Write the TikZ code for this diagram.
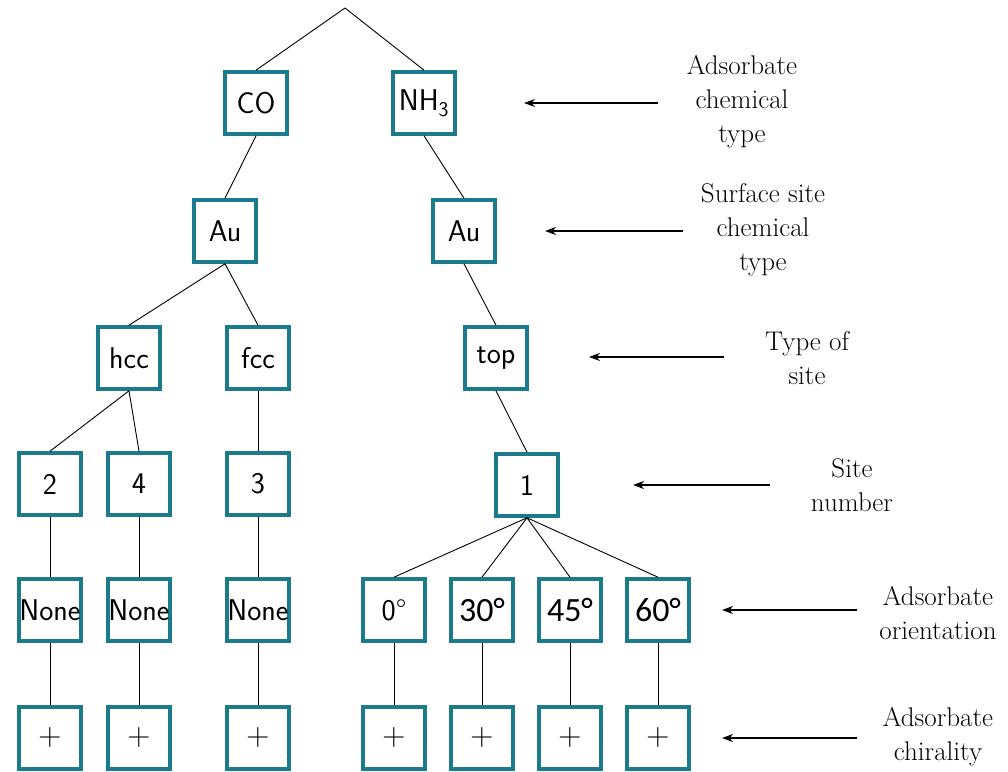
\documentclass[tikz,border=0pt]{standalone}
\usepackage{fontspec}
\newfontfamily\carlito{Carlito}
\usetikzlibrary{arrows.meta}
\definecolor{boxteal}{HTML}{1B7A8C}
\tikzset{
  tbox/.style={draw=boxteal, line width=3.6pt, fill=white, minimum size=62pt,
    inner sep=0pt, font=\sffamily\fontsize{30}{32}\selectfont},
  degbox/.style={tbox, font=\carlito\fontsize{34}{38}\selectfont},
  plusbox/.style={tbox, font=\rmfamily\fontsize{32}{34}\selectfont},
  branch/.style={draw=black, line width=0.9pt},
  pointer/.style={draw=black, line width=1.8pt, -{Stealth[length=11pt,width=8pt]}},
  level/.style={align=center, font=\rmfamily\fontsize{27}{34}\selectfont},
}
\begin{document}
\begin{tikzpicture}[x=1pt, y=-1pt]
\useasboundingbox (0,0) rectangle (1008,771);

% tree
\coordinate (root) at (345,8);
\node[tbox] (co)  at (256,103) {CO};
\node[tbox] (nh)  at (424,103) {NH\textsubscript{3}};
\node[tbox] (au1) at (225,231) {Au};
\node[tbox] (au2) at (464,231) {Au};
\node[tbox] (hcc) at (129,358) {hcc};
\node[tbox] (fcc) at (258,358) {fcc};
\node[tbox] (top) at (496,358) {top};
\node[tbox] (s2)  at (50,484)  {2};
\node[tbox] (s4)  at (139,484) {4};
\node[tbox] (s3)  at (258,484) {3};
\node[tbox] (s1)  at (527,485) {1};
\node[tbox] (n2)  at (50,610)  {None};
\node[tbox] (n4)  at (139,610) {None};
\node[tbox] (n3)  at (258,610) {None};
\node[tbox] (a0)  at (394,610) {0°};
\node[degbox] (a30) at (482,610) {30°};
\node[degbox] (a45) at (570,610) {45°};
\node[degbox] (a60) at (658,610) {60°};
\foreach \n/\x in {p2/50, p4/139, p3/258, p0/394, p30/482, p45/570, p60/658}
  \node[plusbox] (\n) at (\x,738) {+};

\draw[branch] (root) -- (co.north);
\draw[branch] (root) -- (nh.north);
\draw[branch] (co.south) -- (au1.north);
\draw[branch] (nh.south) -- (au2.north);
\draw[branch] (au1.south) -- (hcc.north);
\draw[branch] (au1.south) -- (fcc.north);
\draw[branch] (au2.south) -- (top.north);
\draw[branch] (hcc.south) -- (s2.north);
\draw[branch] (hcc.south) -- (s4.north);
\draw[branch] (fcc.south) -- (s3.north);
\draw[branch] (top.south) -- (s1.north);
\draw[branch] (s2.south) -- (n2.north);
\draw[branch] (s4.south) -- (n4.north);
\draw[branch] (s3.south) -- (n3.north);
\foreach \a in {a0,a30,a45,a60}
  \draw[branch] (s1.south) -- (\a.north);
\draw[branch] (n2.south) -- (p2.north);
\draw[branch] (n4.south) -- (p4.north);
\draw[branch] (n3.south) -- (p3.north);
\draw[branch] (a0.south) -- (p0.north);
\draw[branch] (a30.south) -- (p30.north);
\draw[branch] (a45.south) -- (p45.north);
\draw[branch] (a60.south) -- (p60.north);

% level captions
\node[level] (l1) at (742,102) {Adsorbate\\chemical\\type};
\node[level] (l2) at (763,230) {Surface site\\chemical\\type};
\node[level] (l3) at (807,358) {Type of\\site};
\node[level] (l4) at (852,485) {Site\\number};
\node[level] (l5) at (938,613) {Adsorbate\\orientation};
\node[level] (l6) at (938,737) {Adsorbate\\chirality};

\coordinate (e1) at (524,103);
\coordinate (e2) at (545,231);
\coordinate (e3) at (589,357);
\coordinate (e4) at (633,485);
\coordinate (e5) at (722,610);
\coordinate (e6) at (722,738);
\coordinate (b1) at (658,103);
\coordinate (b2) at (683,231);
\coordinate (b3) at (724,357);
\coordinate (b4) at (770,485);
\coordinate (b5) at (857,610);
\coordinate (b6) at (857,738);
\foreach \i in {1,...,6}
  \draw[pointer] (b\i) -- (e\i);
\end{tikzpicture}
\end{document}
